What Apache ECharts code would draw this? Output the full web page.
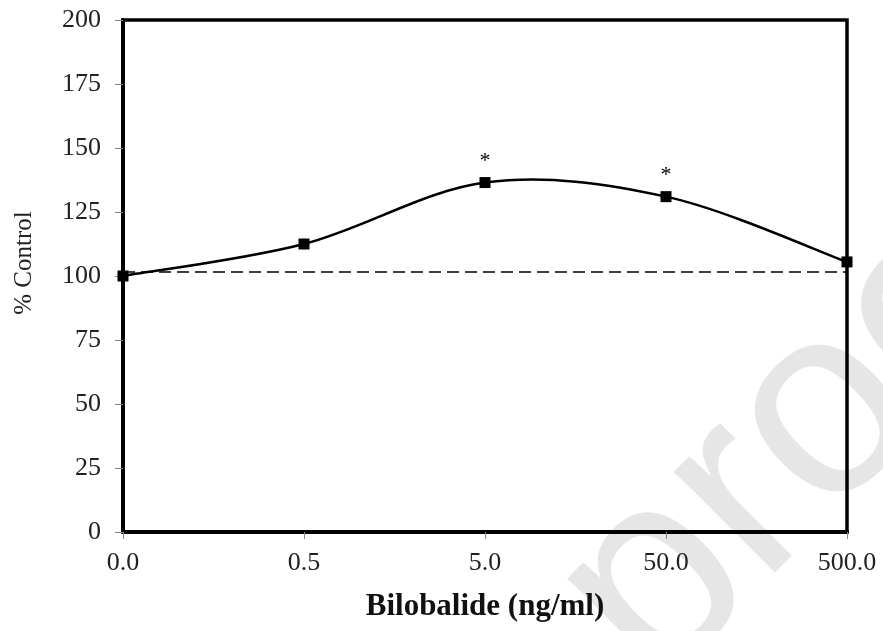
<!DOCTYPE html>
<html>
<head>
<meta charset="utf-8">
<script src="https://cdn.jsdelivr.net/npm/echarts@6/dist/echarts.min.js"></script>
<style>
  html, body { margin: 0; padding: 0; background: #fff; }
  #chart { width: 883px; height: 631px; }
</style>
</head>
<body>
<div id="chart"></div>
<script>
// ---- data ----
var categories = ['0.0', '0.5', '5.0', '50.0', '500.0'];
var percentControl = [100, 112.5, 136.5, 131, 105.5];
var significance = ['', '', '*', '*', ''];
var controlLevel = 101.5;
var yTicks = { min: 0, max: 200, interval: 25 };
var xTitle = 'Bilobalide (ng/ml)';
var yTitle = '% Control';
var watermark = 'Journal Pre-proof';

var serif = '"Liberation Serif", "Times New Roman", serif';
var chart = echarts.init(document.getElementById('chart'), null, { renderer: 'canvas' });

// Smoothed curve (Excel-style Catmull-Rom Bezier) drawn through the axis scales.
function renderCurve(params, api) {
  var i = params.dataIndex;
  var n = percentControl.length;
  if (i >= n - 1) return null;
  function pt(k) {
    k = Math.max(0, Math.min(n - 1, k));
    return api.coord([k, percentControl[k]]);
  }
  var p0 = pt(i - 1), p1 = pt(i), p2 = pt(i + 1), p3 = pt(i + 2);
  var t = 1 / 6;
  return {
    type: 'bezierCurve',
    shape: {
      x1: p1[0], y1: p1[1],
      x2: p2[0], y2: p2[1],
      cpx1: p1[0] + (p2[0] - p0[0]) * t,
      cpy1: p1[1] + (p2[1] - p0[1]) * t,
      cpx2: p2[0] - (p3[0] - p1[0]) * t,
      cpy2: p2[1] - (p3[1] - p1[1]) * t
    },
    style: { stroke: '#000', lineWidth: 2.5, fill: null },
    silent: true
  };
}

chart.setOption({
  animation: false,
  backgroundColor: '#ffffff',
  graphic: [{
    type: 'text',
    z: -10,
    silent: true,
    x: 1038,
    y: 204,
    rotation: Math.PI / 4,
    style: {
      text: watermark,
      font: '270px "Liberation Sans", Arial, sans-serif',
      fill: '#e6e6e6',
      align: 'right',
      verticalAlign: 'middle'
    }
  }],
  grid: {
    left: 123, right: 36, top: 20, bottom: 99,
    show: true,
    borderColor: '#000',
    borderWidth: 3.5,
    backgroundColor: 'transparent'
  },
  xAxis: {
    type: 'category',
    data: categories,
    boundaryGap: false,
    name: xTitle,
    nameLocation: 'middle',
    nameGap: 59,
    nameTextStyle: { fontFamily: serif, fontWeight: 'bold', fontSize: 31, color: '#111' },
    axisLine: { lineStyle: { color: '#000', width: 4 } },
    axisTick: { show: true, inside: false, length: 7, alignWithLabel: true, lineStyle: { color: '#888', width: 1 } },
    axisLabel: { fontFamily: serif, fontSize: 26, color: '#222', margin: 18 },
    splitLine: { show: false }
  },
  yAxis: {
    type: 'value',
    min: yTicks.min,
    max: yTicks.max,
    interval: yTicks.interval,
    name: yTitle,
    nameLocation: 'middle',
    nameRotate: 90,
    nameGap: 86,
    nameTextStyle: { fontFamily: serif, fontSize: 25, color: '#222', padding: [0, 0, 0, 26] },
    axisLine: { show: true, lineStyle: { color: '#000', width: 4 } },
    axisTick: { show: true, inside: false, length: 8, lineStyle: { color: '#888', width: 1 } },
    axisLabel: { fontFamily: serif, fontSize: 26, color: '#222', margin: 22 },
    splitLine: { show: false }
  },
  series: [{
    type: 'custom',
    renderItem: renderCurve,
    data: percentControl.map(function (v, k) { return [k, v]; }),
    encode: { x: 0, y: 1 },
    z: 4
  }, {
    type: 'scatter',
    data: percentControl,
    symbol: 'rect',
    symbolSize: 11,
    itemStyle: { color: '#000', opacity: 1 },
    label: {
      show: true,
      position: 'top',
      distance: 5,
      fontFamily: serif,
      fontSize: 22,
      color: '#000',
      opacity: 1,
      formatter: function (p) { return significance[p.dataIndex]; }
    },
    markLine: {
      silent: true,
      symbol: 'none',
      label: { show: false },
      lineStyle: { color: '#000', type: [12, 6], width: 1.5, opacity: 1 },
      data: [{ yAxis: controlLevel }]
    },
    z: 5
  }]
});
</script>
</body>
</html>
